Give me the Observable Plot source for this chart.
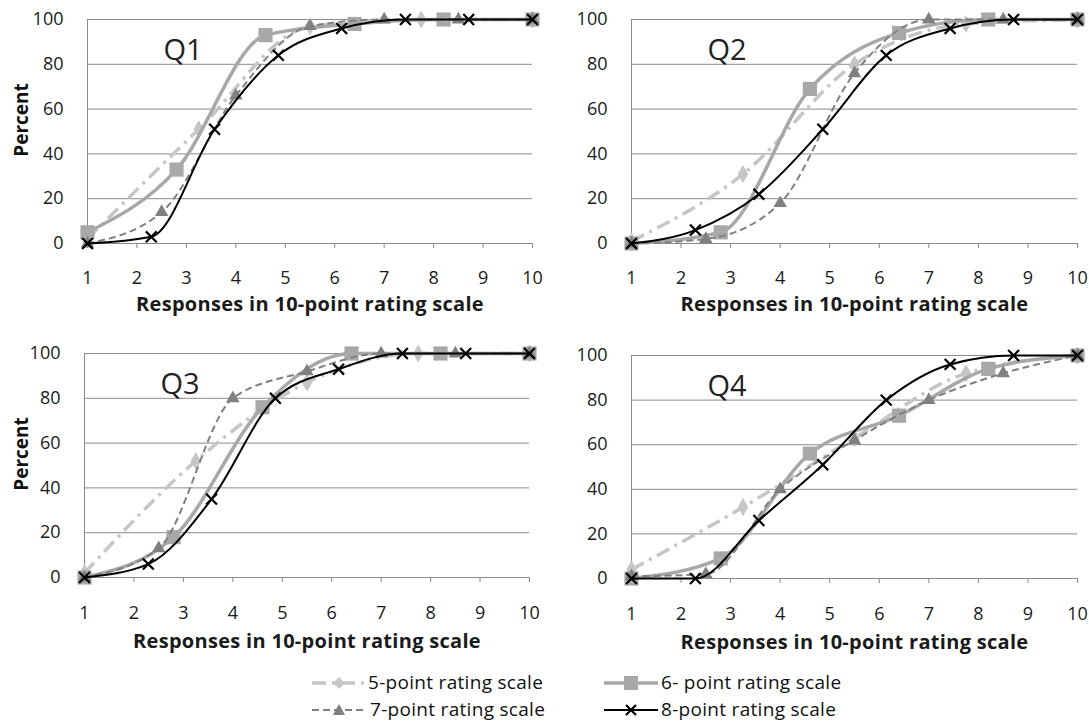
<!DOCTYPE html>
<html><head><meta charset="utf-8">
<script src="https://cdn.jsdelivr.net/npm/d3@7"></script>
<script src="https://cdn.jsdelivr.net/npm/@observablehq/plot@0.6"></script>
<style>
body{margin:0;background:#fff;font-family:"Open Sans",Lato,sans-serif;}
#wrap{position:relative;width:1089px;height:726px;overflow:hidden;background:#fff;}
.panel{position:absolute;}
.panel svg g[aria-label="x-axis label"] text{font-weight:bold;font-size:20px;letter-spacing:0.3px;}
.panel svg g[aria-label="x-axis tick"]{stroke:#888;}
.ylab{position:absolute;font-weight:bold;font-size:19px;color:#111;white-space:nowrap;transform:translate(-50%,-50%) rotate(-90deg);line-height:20px;}
.leg{position:absolute;font-size:19px;letter-spacing:0.3px;color:#111;white-space:nowrap;line-height:22px;}
.sw{position:absolute;}
</style></head><body><div id="wrap"></div>
<script>
// x positions of each scale's options mapped onto the 10-point scale
const xs5 = [1, 3.25, 5.5, 7.75, 10];
const xs6 = [1, 2.8, 4.6, 6.4, 8.2, 10];
const xs7 = [1, 2.5, 4, 5.5, 7, 8.5, 10];
const xs8 = [1, 2.29, 3.57, 4.86, 6.14, 7.43, 8.71, 10];

// cumulative percent values
const Q1_5 = [2, 51, 97, 100, 100];
const Q1_6 = [5, 33, 93, 98, 100, 100];
const Q1_7 = [0, 14, 66, 97, 100, 100, 100];
const Q1_8 = [0, 3, 51, 84, 96, 100, 100, 100];

const Q2_5 = [1, 31, 80, 98, 100];
const Q2_6 = [0, 5, 69, 94, 100, 100];
const Q2_7 = [0, 2, 18, 76, 100, 100, 100];
const Q2_8 = [0, 6, 22, 51, 84, 96, 100, 100];

const Q3_5 = [2, 52, 87, 100, 100];
const Q3_6 = [0, 18, 76, 100, 100, 100];
const Q3_7 = [0, 13, 80, 92, 100, 100, 100];
const Q3_8 = [0, 6, 35, 80, 93, 100, 100, 100];

const Q4_5 = [4, 32, 63, 92, 100];
const Q4_6 = [0, 9, 56, 73, 94, 100];
const Q4_7 = [1, 2, 40, 62, 80, 92, 100];
const Q4_8 = [0, 0, 26, 51, 80, 96, 100, 100];

const questions = ["Q1", "Q2", "Q3", "Q4"];
const seriesNames = ["5-point rating scale", "6- point rating scale", "7-point rating scale", "8-point rating scale"];
const xTicks = [1, 2, 3, 4, 5, 6, 7, 8, 9, 10];
const yTicks = [0, 20, 40, 60, 80, 100];
const xLabel = "Responses in 10-point rating scale";
const yLabel = "Percent";

const xsBySeries = [xs5, xs6, xs7, xs8];
const valuesByQ = {
  Q1: [Q1_5, Q1_6, Q1_7, Q1_8],
  Q2: [Q2_5, Q2_6, Q2_7, Q2_8],
  Q3: [Q3_5, Q3_6, Q3_7, Q3_8],
  Q4: [Q4_5, Q4_6, Q4_7, Q4_8]
};

const styles = [
  {stroke: "#c6c6c6", strokeWidth: 3.5, dash: "14,6,3,6", symbol: "diamond", r: 5.5, fill: "#c6c6c6"},
  {stroke: "#a8a8a8", strokeWidth: 3.5, dash: null, symbol: "square", r: 8, fill: "#a8a8a8"},
  {stroke: "#808080", strokeWidth: 2, dash: "7,4", symbol: "triangle", r: 5, fill: "#808080"},
  {stroke: "#000000", strokeWidth: 2, dash: null, symbol: "times", r: 5, fill: "none"}
];

const layout = [
  {q: "Q1", left: 0, top: 0, width: 545, height: 320, mL: 87, mR: 13, mT: 19, mB: 77, yl: 120, tp: 23, lo: 67},
  {q: "Q2", left: 545, top: 0, width: 544, height: 320, mL: 86, mR: 12, mT: 19, mB: 77, yl: null, tp: 23, lo: 67},
  {q: "Q3", left: 0, top: 320, width: 545, height: 340, mL: 84, mR: 16, mT: 33, mB: 83, yl: 454, tp: 24, lo: 70},
  {q: "Q4", left: 545, top: 320, width: 544, height: 340, mL: 86, mR: 12, mT: 35, mB: 82, yl: null, tp: 24, lo: 70}
];

const wrap = document.getElementById("wrap");
const FONT = "'Open Sans', Lato, sans-serif";

for (const p of layout) {
  const marks = [
    Plot.gridY(yTicks, {stroke: "#8a8a8a", strokeOpacity: 1, strokeWidth: 1}),
    Plot.ruleX([1], {stroke: "#8a8a8a", strokeWidth: 1}),
    Plot.axisY(yTicks, {tickSize: 0, tickPadding: 24, fontSize: 18, label: null}),
    Plot.axisX(xTicks, {tickSize: 5, tickPadding: p.tp, fontSize: 18, label: xLabel, labelAnchor: "center", labelArrow: "none", labelOffset: p.lo})
  ];
  valuesByQ[p.q].forEach((vals, i) => {
    const rows = vals.map((v, j) => ({x: xsBySeries[i][j], y: v}));
    const s = styles[i];
    marks.push(Plot.line(rows, {x: "x", y: "y", curve: "monotone-x", stroke: s.stroke, strokeWidth: s.strokeWidth, strokeDasharray: s.dash, strokeLinecap: "butt"}));
    if (s.symbol === "times") {
      marks.push(Plot.dot(rows, {x: "x", y: "y", symbol: "times", r: s.r, stroke: s.stroke, strokeWidth: 2.2}));
    } else {
      marks.push(Plot.dot(rows, {x: "x", y: "y", symbol: s.symbol, r: s.r, fill: s.fill, stroke: "none"}));
    }
  });
  marks.push(Plot.text([p.q], {frameAnchor: "top-left", dx: 76, dy: 31, text: d => d, fontSize: 29, textAnchor: "start", lineAnchor: "middle", fill: "#222"}));

  const chart = Plot.plot({
    width: p.width, height: p.height,
    marginLeft: p.mL, marginRight: p.mR, marginTop: p.mT, marginBottom: p.mB,
    style: {fontFamily: FONT, fontSize: "18px", color: "#1a1a1a", background: "white", overflow: "visible"},
    x: {domain: [1, 10]},
    y: {domain: [0, 100]},
    marks
  });
  const div = document.createElement("div");
  div.className = "panel";
  div.style.left = p.left + "px";
  div.style.top = p.top + "px";
  div.appendChild(chart);
  wrap.appendChild(div);
  if (p.yl !== null) {
    const yl = document.createElement("div");
    yl.className = "ylab";
    yl.style.left = "21px";
    yl.style.top = p.yl + "px";
    yl.textContent = yLabel;
    wrap.appendChild(yl);
  }
}

// legend
function swatch(i) {
  const s = styles[i];
  const w = 58, h = 20, cy = 10, cx = 29;
  let line = `<line x1="2" x2="${w - 2}" y1="${cy}" y2="${cy}" stroke="${s.stroke}" stroke-width="${s.strokeWidth}" ${s.dash ? `stroke-dasharray="${s.dash}"` : ""}/>`;
  let m = "";
  if (i === 0) m = `<path d="M${cx},${cy - 6}L${cx + 6},${cy}L${cx},${cy + 6}L${cx - 6},${cy}Z" fill="${s.fill}"/>`;
  if (i === 1) m = `<rect x="${cx - 7}" y="${cy - 7}" width="14" height="14" fill="${s.fill}"/>`;
  if (i === 2) m = `<path d="M${cx},${cy - 6}L${cx + 6},${cy + 5}L${cx - 6},${cy + 5}Z" fill="${s.fill}"/>`;
  if (i === 3) m = `<path d="M${cx - 5},${cy - 5}L${cx + 5},${cy + 5}M${cx + 5},${cy - 5}L${cx - 5},${cy + 5}" stroke="#000" stroke-width="2.2"/>`;
  return `<svg width="${w}" height="${h}">${line}${m}</svg>`;
}
const legPos = [
  {sx: 310, tx: 368, y: 683},
  {sx: 602, tx: 661, y: 683},
  {sx: 310, tx: 370, y: 710},
  {sx: 602, tx: 661, y: 710}
];
seriesNames.forEach((name, i) => {
  const lp = legPos[i];
  const sw = document.createElement("div");
  sw.className = "sw";
  sw.style.left = lp.sx + "px";
  sw.style.top = (lp.y - 10) + "px";
  sw.innerHTML = swatch(i);
  wrap.appendChild(sw);
  const t = document.createElement("div");
  t.className = "leg";
  t.style.left = lp.tx + "px";
  t.style.top = (lp.y - 12) + "px";
  t.textContent = name;
  wrap.appendChild(t);
});
</script></body></html>
